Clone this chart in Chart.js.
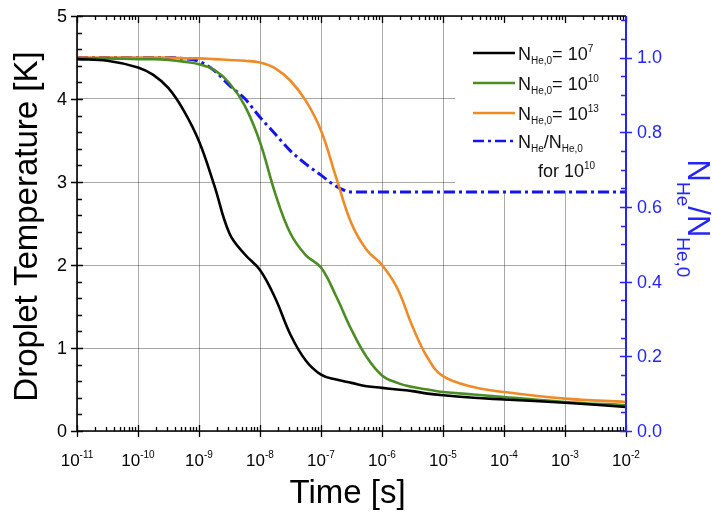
<!DOCTYPE html>
<html>
<head>
<meta charset="utf-8">
<script src="https://cdn.jsdelivr.net/npm/chart.js@4.4.1/dist/chart.umd.min.js"></script>
<style>
  html, body { margin: 0; padding: 0; background: #fff; }
  #wrap { width: 712px; height: 514px; position: relative; }
</style>
</head>
<body>
<div id="wrap"><canvas id="chart"></canvas></div>
<script>
// Time samples [s]
const times = [1e-11, 3.16e-11, 1e-10, 1.78e-10, 3.16e-10, 5.62e-10, 1e-9, 1.78e-9, 3.16e-9, 5.62e-9,
  1e-8, 1.78e-8, 3.16e-8, 5.62e-8, 1e-7, 1.78e-7, 3.16e-7, 5.62e-7, 1e-6, 1.78e-6, 3.16e-6, 5.62e-6,
  1e-5, 3.16e-5, 1e-4, 1e-3, 1e-2];

// Droplet temperature [K] for the three initial He numbers
const tempN7 = [4.48, 4.46, 4.38, 4.29, 4.13, 3.86, 3.49, 2.96, 2.38, 2.13,
  1.94, 1.60, 1.16, 0.85, 0.68, 0.62, 0.58, 0.54, 0.52, 0.50, 0.48, 0.45,
  0.43, 0.40, 0.38, 0.34, 0.29];
const tempN10 = [4.49, 4.49, 4.48, 4.48, 4.47, 4.45, 4.42, 4.35, 4.19, 3.92,
  3.48, 2.86, 2.38, 2.12, 1.97, 1.62, 1.22, 0.89, 0.67, 0.58, 0.53, 0.50,
  0.47, 0.44, 0.41, 0.35, 0.31];
const tempN13 = [4.50, 4.50, 4.50, 4.50, 4.50, 4.49, 4.49, 4.48, 4.47, 4.46,
  4.44, 4.37, 4.22, 3.98, 3.62, 3.05, 2.50, 2.18, 2.00, 1.72, 1.26, 0.88,
  0.66, 0.53, 0.47, 0.39, 0.35];

// He fraction N_He/N_He,0 for 10^10
const ratioN10 = [1.0, 1.0, 1.0, 1.0, 1.0, 0.997, 0.99, 0.965, 0.925, 0.89,
  0.84, 0.795, 0.75, 0.715, 0.685, 0.655, 0.64, 0.64, 0.64, 0.64, 0.64, 0.64,
  0.64, 0.64, 0.64, 0.64, 0.64];

// Tick labels
const decadeTicks = [1e-11, 1e-10, 1e-9, 1e-8, 1e-7, 1e-6, 1e-5, 1e-4, 1e-3, 1e-2];
const decadeExp = ['-11', '-10', '-9', '-8', '-7', '-6', '-5', '-4', '-3', '-2'];
const tempTicks = [0, 1, 2, 3, 4, 5];
const ratioTicks = [0, 0.2, 0.4, 0.6, 0.8, 1.0];
const ratioLabels = ['0.0', '0.2', '0.4', '0.6', '0.8', '1.0'];

const FONT = "'Liberation Sans', Arial, sans-serif";
const BLUE = '#2424ff';
const GRID = 'rgba(0,0,0,0.34)';

const series = [
  { data: tempN7, color: '#000000', axis: 'y', dash: [] },
  { data: tempN10, color: '#4c8c24', axis: 'y', dash: [] },
  { data: tempN13, color: '#f08a26', axis: 'y', dash: [] },
  { data: ratioN10, color: '#1414ee', axis: 'y2', dash: [11, 4, 3, 4] }
];

// draw a string made of pieces with own size and vertical shift
function richWidth(ctx, parts) {
  let w = 0;
  parts.forEach(p => {
    ctx.font = p.size + 'px ' + FONT;
    w += ctx.measureText(p.t).width;
  });
  return w;
}
function drawRich(ctx, x, y, parts) {
  ctx.textAlign = 'left';
  ctx.textBaseline = 'alphabetic';
  parts.forEach(p => {
    ctx.font = p.size + 'px ' + FONT;
    ctx.fillText(p.t, x, y + (p.dy || 0));
    x += ctx.measureText(p.t).width;
  });
}

const legendRows = [
  { color: '#000000', dash: [], parts: [{t: 'N', size: 18}, {t: 'He,0', size: 10, dy: 4}, {t: '= 10', size: 18}, {t: '7', size: 10, dy: -8}] },
  { color: '#4c8c24', dash: [], parts: [{t: 'N', size: 18}, {t: 'He,0', size: 10, dy: 4}, {t: '= 10', size: 18}, {t: '10', size: 10, dy: -8}] },
  { color: '#f08a26', dash: [], parts: [{t: 'N', size: 18}, {t: 'He,0', size: 10, dy: 4}, {t: '= 10', size: 18}, {t: '13', size: 10, dy: -8}] },
  { color: '#1414ee', dash: [11, 4, 3, 4], parts: [{t: 'N', size: 18}, {t: 'He', size: 10, dy: 4}, {t: '/N', size: 18}, {t: 'He,0', size: 10, dy: 4}] }
];

const decor = {
  id: 'decor',
  beforeDatasetsDraw(chart) {
    const ctx = chart.ctx, a = chart.chartArea;
    // white legend box hides the grid
    ctx.save();
    ctx.fillStyle = '#ffffff';
    ctx.fillRect(a.right - 171, a.top + 1, 170, 174);
    ctx.restore();
  },
  afterDraw(chart) {
    const ctx = chart.ctx, a = chart.chartArea;
    const xs = chart.scales.x, ys = chart.scales.y, y2 = chart.scales.y2;
    ctx.save();

    // frame
    ctx.lineWidth = 1.6;
    ctx.strokeStyle = '#000';
    ctx.beginPath();
    ctx.moveTo(a.left, a.top); ctx.lineTo(a.right, a.top);
    ctx.moveTo(a.left, a.top); ctx.lineTo(a.left, a.bottom);
    ctx.moveTo(a.left, a.bottom); ctx.lineTo(a.right, a.bottom);
    ctx.stroke();

    // x ticks (bottom and top)
    ctx.lineWidth = 1.3;
    ctx.beginPath();
    decadeTicks.forEach((d, i) => {
      const px = Math.round(xs.getPixelForValue(d)) + 0.5;
      ctx.moveTo(px, a.bottom + 6); ctx.lineTo(px, a.bottom - 6);
      ctx.moveTo(px, a.top); ctx.lineTo(px, a.top + 7);
      if (i < decadeTicks.length - 1) {
        for (let k = 2; k <= 9; k++) {
          const mx = Math.round(xs.getPixelForValue(d * k)) + 0.5;
          ctx.moveTo(mx, a.bottom); ctx.lineTo(mx, a.bottom - 4);
          ctx.moveTo(mx, a.top); ctx.lineTo(mx, a.top + 4);
        }
      }
    });
    // left ticks
    tempTicks.forEach(v => {
      const py = Math.round(ys.getPixelForValue(v)) + 0.5;
      ctx.moveTo(a.left - 6, py); ctx.lineTo(a.left + 6, py);
      if (v < 5) {
        for (let k = 1; k < 5; k++) {
          const my = Math.round(ys.getPixelForValue(v + k * 0.2)) + 0.5;
          ctx.moveTo(a.left, my); ctx.lineTo(a.left + 5, my);
        }
      }
    });
    ctx.stroke();

    // right axis (blue)
    ctx.strokeStyle = BLUE;
    ctx.lineWidth = 2;
    ctx.beginPath();
    ctx.moveTo(a.right, a.top); ctx.lineTo(a.right, a.bottom);
    ctx.stroke();
    ctx.lineWidth = 1.3;
    ctx.beginPath();
    ratioTicks.forEach(v => {
      const py = Math.round(y2.getPixelForValue(v)) + 0.5;
      ctx.moveTo(a.right - 6, py); ctx.lineTo(a.right + 6, py);
    });
    for (let m = 0.05; m < 1.11; m += 0.05) {
      if (Math.abs(m * 5 - Math.round(m * 5)) < 1e-6) continue;
      const my = Math.round(y2.getPixelForValue(m)) + 0.5;
      ctx.moveTo(a.right - 5, my); ctx.lineTo(a.right, my);
    }
    ctx.stroke();

    // tick labels
    ctx.fillStyle = '#000';
    decadeTicks.forEach((d, i) => {
      const parts = [{t: '10', size: 17}, {t: decadeExp[i], size: 10, dy: -8}];
      const w = richWidth(ctx, parts);
      drawRich(ctx, xs.getPixelForValue(d) - w / 2, a.bottom + 35, parts);
    });
    ctx.font = '18px ' + FONT;
    ctx.textAlign = 'right';
    ctx.textBaseline = 'middle';
    tempTicks.forEach(v => ctx.fillText(String(v), a.left - 10, ys.getPixelForValue(v) + 1));
    ctx.fillStyle = BLUE;
    ctx.textAlign = 'left';
    ratioTicks.forEach((v, i) => ctx.fillText(ratioLabels[i], a.right + 11, y2.getPixelForValue(v) + 1));

    // axis titles
    ctx.fillStyle = '#000';
    ctx.font = '33px ' + FONT;
    ctx.textAlign = 'center';
    ctx.textBaseline = 'alphabetic';
    ctx.fillText('Time [s]', (a.left + a.right) / 2 - 4, a.bottom + 72);
    ctx.save();
    ctx.translate(37, (a.top + a.bottom) / 2 + 3);
    ctx.rotate(-Math.PI / 2);
    ctx.fillText('Droplet Temperature [K]', 0, 0);
    ctx.restore();

    ctx.save();
    ctx.fillStyle = BLUE;
    const rt = [{t: 'N', size: 31}, {t: 'He', size: 19, dy: 11}, {t: '/N', size: 31}, {t: 'He,0', size: 19, dy: 11}];
    const rw = richWidth(ctx, rt);
    ctx.translate(a.right + 62, (a.top + a.bottom) / 2 - 5);
    ctx.rotate(Math.PI / 2);
    drawRich(ctx, -rw / 2, 0, rt);
    ctx.restore();

    // legend
    const lx = a.right - 153, rowY = [a.top + 37, a.top + 67, a.top + 97, a.top + 125];
    legendRows.forEach((r, i) => {
      ctx.strokeStyle = r.color;
      ctx.lineWidth = 2.5;
      ctx.setLineDash(r.dash);
      ctx.beginPath();
      ctx.moveTo(lx, rowY[i]); ctx.lineTo(lx + 42, rowY[i]);
      ctx.stroke();
      ctx.setLineDash([]);
      ctx.fillStyle = '#111';
      drawRich(ctx, lx + 45, rowY[i] + 7, r.parts);
    });
    drawRich(ctx, lx + 65, a.top + 161, [{t: 'for 10', size: 18}, {t: '10', size: 10, dy: -8}]);

    ctx.restore();
  }
};

new Chart(document.getElementById('chart'), {
  type: 'line',
  data: {
    datasets: series.map(s => ({
      data: times.map((t, i) => ({ x: t, y: s.data[i] })),
      borderColor: s.color,
      borderWidth: s.axis === 'y2' ? 3 : 2.6,
      borderDash: s.dash,
      pointRadius: 0,
      fill: false,
      tension: 0.4,
      cubicInterpolationMode: s.axis === 'y2' ? 'monotone' : 'default',
      yAxisID: s.axis
    }))
  },
  options: {
    responsive: true,
    maintainAspectRatio: false,
    animation: false,
    layout: { padding: { top: 16, left: 0, right: 0, bottom: 0 } },
    plugins: { legend: { display: false }, tooltip: { enabled: false } },
    scales: {
      x: {
        type: 'logarithmic',
        position: 'bottom',
        min: 1e-11,
        max: 1e-2,
        afterBuildTicks: s => { s.ticks = decadeTicks.map(v => ({ value: v })); },
        afterFit: s => { s.height = 83; },
        ticks: { display: false },
        grid: { color: GRID, lineWidth: 1, drawTicks: false },
        border: { display: false }
      },
      y: {
        position: 'left',
        min: 0,
        max: 5,
        afterBuildTicks: s => { s.ticks = tempTicks.map(v => ({ value: v })); },
        afterFit: s => { s.width = 77; },
        ticks: { display: false },
        grid: { color: GRID, lineWidth: 1, drawTicks: false },
        border: { display: false }
      },
      y2: {
        position: 'right',
        min: 0,
        max: 5 / 4.5,
        afterFit: s => { s.width = 86; },
        ticks: { display: false },
        grid: { display: false, drawTicks: false },
        border: { display: false }
      }
    }
  },
  plugins: [decor]
});
</script>
</body>
</html>
